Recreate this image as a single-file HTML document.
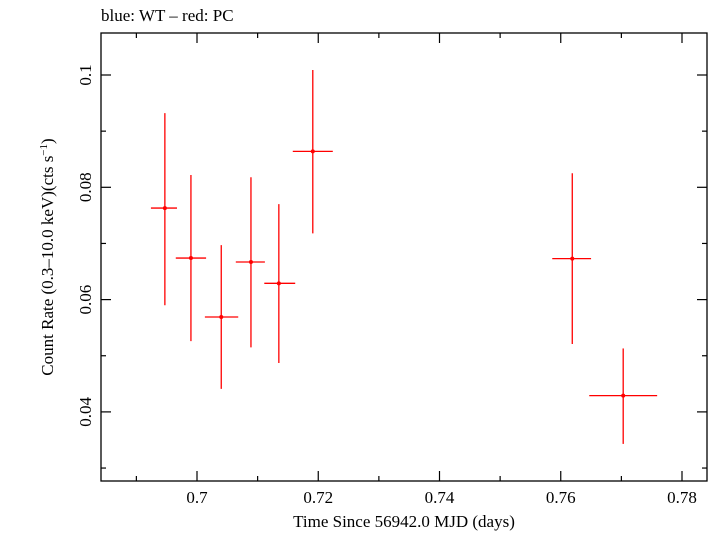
<!DOCTYPE html>
<html><head><meta charset="utf-8"><style>
body{margin:0;background:#fff}
svg{font-family:"Liberation Serif",serif}
</style></head><body>
<svg id="chart" width="713" height="532" viewBox="0 0 713 532" xmlns="http://www.w3.org/2000/svg">
<text x="101" y="21" font-size="17">blue: WT – red: PC</text>
<rect x="101" y="33" width="606" height="448" fill="none" stroke="#000" stroke-width="1.3"/>
<g id="ticks"></g>
<g id="marks"></g>
<text x="404" y="527" font-size="17" text-anchor="middle">Time Since 56942.0 MJD (days)</text>
<text transform="translate(53,257) rotate(-90)" font-size="17" text-anchor="middle">Count Rate (0.3–10.0 keV)(cts s<tspan dy="-6" font-size="11">−1</tspan><tspan dy="6">)</tspan></text>
</svg>
<script>
const xVals=[0.6947,0.6990,0.7040,0.7089,0.7135,0.7191,0.7619,0.7703];
const xLo=[0.6924,0.6965,0.7013,0.7064,0.7111,0.7158,0.7586,0.7647];
const xHi=[0.6967,0.7015,0.7068,0.7112,0.7162,0.7224,0.7650,0.7759];
const yVals=[0.0763,0.0674,0.0569,0.0667,0.0629,0.0864,0.0673,0.0429];
const yLo=[0.0590,0.0526,0.0441,0.0515,0.0487,0.0718,0.0521,0.0343];
const yHi=[0.0932,0.0822,0.0697,0.0818,0.0770,0.1009,0.0825,0.0513];
const xMajor=[0.7,0.72,0.74,0.76,0.78];
const xMinor=[0.69,0.71,0.73,0.75,0.77];
const yMajor=[0.04,0.06,0.08,0.1];
const yMinor=[0.03,0.05,0.07,0.09];
const xLabels=["0.7","0.72","0.74","0.76","0.78"];
const yLabels=["0.04","0.06","0.08","0.1"];
const L=101,R=707,T=33,B=481;
const xs=v=>197+(v-0.7)*6062.5;
const ys=v=>75-(v-0.1)*5615;
const NS="http://www.w3.org/2000/svg";
function mk(tag,attrs,parent,text){const e=document.createElementNS(NS,tag);for(const k in attrs)e.setAttribute(k,attrs[k]);if(text!==undefined)e.textContent=text;parent.appendChild(e);return e;}
const tg=document.getElementById('ticks');
xMajor.forEach((v,i)=>{const x=xs(v);
 let a=mk('line',{x1:x,x2:x,y1:B,y2:B-10,stroke:'#000','stroke-width':1.2},tg);
 
 let b=mk('line',{x1:x,x2:x,y1:T,y2:T+10,stroke:'#000','stroke-width':1.2},tg);
 
 let t=mk('text',{x:x,y:503,'font-size':17,'text-anchor':'middle'},tg,xLabels[i]);
 });
xMinor.forEach(v=>{const x=xs(v);
 let a=mk('line',{x1:x,x2:x,y1:B,y2:B-5,stroke:'#000','stroke-width':1.2},tg);
 
 let b=mk('line',{x1:x,x2:x,y1:T,y2:T+5,stroke:'#000','stroke-width':1.2},tg);
 });
yMajor.forEach((v,i)=>{const y=ys(v);
 let a=mk('line',{x1:L,x2:L+10,y1:y,y2:y,stroke:'#000','stroke-width':1.2},tg);
 
 let b=mk('line',{x1:R,x2:R-10,y1:y,y2:y,stroke:'#000','stroke-width':1.2},tg);
 
 let t=mk('text',{transform:`translate(91,${y}) rotate(-90)`,'font-size':17,'text-anchor':'middle'},tg,yLabels[i]);
 });
yMinor.forEach(v=>{const y=ys(v);
 let a=mk('line',{x1:L,x2:L+5,y1:y,y2:y,stroke:'#000','stroke-width':1.2},tg);
 
 let b=mk('line',{x1:R,x2:R-5,y1:y,y2:y,stroke:'#000','stroke-width':1.2},tg);
 });
const mg=document.getElementById('marks');
xVals.forEach((xv,i)=>{
 const g=mk('g',{},mg);
 
 mk('line',{x1:xs(xLo[i]),x2:xs(xHi[i]),y1:ys(yVals[i]),y2:ys(yVals[i]),stroke:'#f00','stroke-width':1.3},g);
 mk('line',{x1:xs(xv),x2:xs(xv),y1:ys(yLo[i]),y2:ys(yHi[i]),stroke:'#f00','stroke-width':1.3},g);
 mk('circle',{cx:xs(xv),cy:ys(yVals[i]),r:2,fill:'#f00'},g);
});
</script>
</body></html>
